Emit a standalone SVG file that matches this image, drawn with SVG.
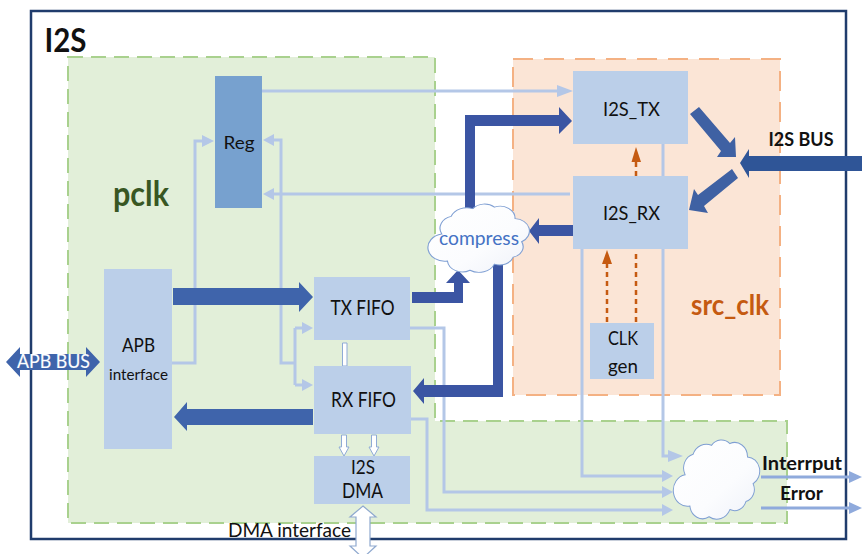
<svg xmlns="http://www.w3.org/2000/svg" width="862" height="554" viewBox="0 0 862 554">
<style>
text{font-family:Lato,"Liberation Sans",sans-serif;fill:#111;text-anchor:middle}
.b{font-weight:700}
.box{fill:#bbcfe9}
.thin{fill:none;stroke:#b4c7e7;stroke-width:3}
.hd{fill:#b4c7e7}
.th{fill:#3b55a3}
.out{fill:#8faadc}
.outl{fill:none;stroke:#8faadc;stroke-width:3}
.or{fill:none;stroke:#c55a11;stroke-width:2.5;stroke-dasharray:5 4}
.orh{fill:#c55a11}
.wa{fill:#fff;stroke:#8fabd6;stroke-width:1}
.cl{fill:url(#cg);stroke:#7f9fd3;stroke-width:1.2;vector-effect:non-scaling-stroke}
</style>
<defs>
<linearGradient id="cg" x1="0" y1="0" x2="1" y2="1"><stop offset="0" stop-color="#fff"/><stop offset=".6" stop-color="#fbfcfe"/><stop offset="1" stop-color="#eef1f9"/></linearGradient>
<path id="cloud" d="M12,45A16,16 0 0 1 22,22A18,18 0 0 1 45,12A16,16 0 0 1 68,10A16,16 0 0 1 90,25A16,16 0 0 1 97,55A14,14 0 0 1 88,75A15,15 0 0 1 68,84A18,18 0 0 1 42,92A16,16 0 0 1 18,80A14,14 0 0 1 12,45Z"/>
</defs>
<rect width="862" height="554" fill="#fff"/>
<g id="frame"><rect x="31" y="11" width="815" height="528" fill="none" stroke="#203c6c" stroke-width="2.5"/>
<text class="b" x="65.500" y="52" font-size="32" textLength="42" lengthAdjust="spacingAndGlyphs">I2S</text></g>
<g id="pclk-domain"><path d="M68,57H435V421H787V523H68Z" fill="#e2efd9" stroke="#a9d18e" stroke-width="2" stroke-dasharray="15 8"/>
<text class="b" x="141" y="206" font-size="34" textLength="56" lengthAdjust="spacingAndGlyphs" style="fill:#385723">pclk</text></g>
<g id="src-clk-domain"><rect x="513" y="59" width="267" height="336" fill="#fbe5d6" stroke="#f4b183" stroke-width="2" stroke-dasharray="20 11"/>
<text class="b" x="730" y="315" font-size="29" textLength="78" lengthAdjust="spacingAndGlyphs" style="fill:#c55a11">src_clk</text></g>
<g id="connectors">
<path class="thin" d="M172,363H195V141H204"/><path class="hd" d="M214,141L202,135V147Z"/>
<path class="thin" d="M272,140H281V363H295M295,328V385M295,328H303M295,385H303"/><path class="hd" d="M263,140L274,134V146Z"/><path class="hd" d="M313,328L302,322V334Z"/><path class="hd" d="M313,385L302,379V391Z"/>
<path class="thin" d="M262,91H560"/><path class="hd" d="M573,91L557,85V97Z"/>
<path class="thin" d="M570,194H272"/><path class="hd" d="M263,194L274,188V200Z"/>
<path class="thin" d="M663,144V456H672"/><path class="hd" d="M683,456L668,450V462Z"/>
<path class="thin" d="M582,249V476H662"/><path class="hd" d="M673,476L662,470V482Z"/>
<path class="thin" d="M410,328H444V492H662"/><path class="hd" d="M673,492L662,486V498Z"/>
<path class="thin" d="M411,419H427V510H662"/><path class="hd" d="M673,510L662,504V516Z"/>
<path class="outl" d="M761,477H850"/><path class="out" d="M862,477L849,471V483Z"/>
<path class="outl" d="M761,508H850"/><path class="out" d="M862,508L849,502V514Z"/>
<path d="M173,288H299V282L313,297L299,312V305H173Z" fill="#3f64ab"/>
<path d="M313,409H187V402L174,417L187,431V425H313Z" fill="#3f64ab"/>
<path d="M6,362L20,347V354H86V347L100,362L86,377V370H20V377Z" fill="#3f64ab"/>
<path class="th" d="M412,292H454V283H446L458,270L470,283H463V303H412Z"/>
<path class="th" d="M465,210V115H559V107L572,121L559,134V126H475V210Z"/>
<path class="th" d="M413,391L424,378V385H493V263H503V397H424V404Z"/>
<path class="th" d="M573,225H539V218L529,231L539,244V236H573Z"/>
<path d="M690,114L699,107L730,143L735,137L736,157L717,157L721,151Z" fill="#3f61a3"/>
<path d="M732,169L738,178L704,206L708,213L689,210L694,189L698,195Z" fill="#3f61a3"/>
<path d="M740,163L749,149V156H862V171H749V178Z" fill="#2f5597"/>
<path class="or" d="M636,176V160"/><path class="orh" d="M636,147L631.500,162H641Z"/>
<path class="or" d="M607,322V262"/><path class="orh" d="M607,250L602,264H612Z"/>
<path class="or" d="M636,322V250"/>
<path class="wa" d="M342.500,343H347V366H342.500Z"/>
<path class="wa" d="M341.500,435H346.500V447H349L344,456L339,447H341.500Z"/>
<path class="wa" d="M371.500,435H376.500V447H379L374,456L369,447H371.500Z"/>
<path d="M363,506L376,517H370V546H376L363,558L350,546H356V517H350Z" fill="#fff" stroke="#8fa9cf" stroke-width="1.200"/>
</g>
<g id="reg"><rect class="box" style="fill:#77a1cf" x="215" y="76" width="47" height="132"/><text x="239" y="149" font-size="18" textLength="31" lengthAdjust="spacingAndGlyphs">Reg</text></g>
<g id="apb"><rect class="box" x="104" y="269" width="68" height="180"/><text x="138.500" y="352" font-size="20" textLength="33" lengthAdjust="spacingAndGlyphs">APB</text><text x="138.500" y="380" font-size="15.500" textLength="59" lengthAdjust="spacingAndGlyphs">interface</text></g>
<g id="tx-fifo"><rect class="box" x="314" y="277" width="96" height="63"/><text x="362.500" y="315" font-size="21" textLength="64" lengthAdjust="spacingAndGlyphs">TX FIFO</text></g>
<g id="rx-fifo"><rect class="box" x="314" y="366" width="97" height="68"/><text x="363.500" y="407" font-size="21" textLength="65" lengthAdjust="spacingAndGlyphs">RX FIFO</text></g>
<g id="i2s-dma"><rect class="box" x="314" y="456" width="96" height="48"/><text x="363" y="474" font-size="20" textLength="24" lengthAdjust="spacingAndGlyphs">I2S</text><text x="362.500" y="498" font-size="21" textLength="41" lengthAdjust="spacingAndGlyphs">DMA</text></g>
<g id="i2s-tx"><rect class="box" x="573" y="71" width="115" height="73"/><text x="631.500" y="116" font-size="20" textLength="57" lengthAdjust="spacingAndGlyphs">I2S_TX</text></g>
<g id="i2s-rx"><rect class="box" x="573" y="176" width="115" height="73"/><text x="631.500" y="220" font-size="20" textLength="57" lengthAdjust="spacingAndGlyphs">I2S_RX</text></g>
<g id="clk-gen"><rect class="box" x="590" y="323" width="64" height="56"/><text x="623" y="345" font-size="20" textLength="30" lengthAdjust="spacingAndGlyphs">CLK</text><text x="623" y="373" font-size="20" textLength="30" lengthAdjust="spacingAndGlyphs">gen</text></g>
<g id="compress"><use href="#cloud" class="cl" transform="translate(430.500,199.400) scale(.94,.77)"/><text x="479" y="245" font-size="20" textLength="80" lengthAdjust="spacingAndGlyphs" style="fill:#4472c4">compress</text></g>
<g id="int-cloud"><use href="#cloud" class="cl" transform="translate(675.500,434.600) scale(.8,.893)"/></g>
<g id="labels">
<text x="53.500" y="368" font-size="19" textLength="73" lengthAdjust="spacingAndGlyphs" style="fill:#fff;stroke:#dfe6f5;stroke-width:.2">APB BUS</text>
<text class="b" x="801" y="146" font-size="19" textLength="65" lengthAdjust="spacingAndGlyphs">I2S BUS</text>
<text class="b" x="802" y="470" font-size="19" textLength="80" lengthAdjust="spacingAndGlyphs">Interrput</text>
<text class="b" x="801.500" y="500" font-size="19" textLength="43" lengthAdjust="spacingAndGlyphs">Error</text>
<text x="289.500" y="537" font-size="20" textLength="123" lengthAdjust="spacingAndGlyphs">DMA interface</text>
</g>
</svg>
